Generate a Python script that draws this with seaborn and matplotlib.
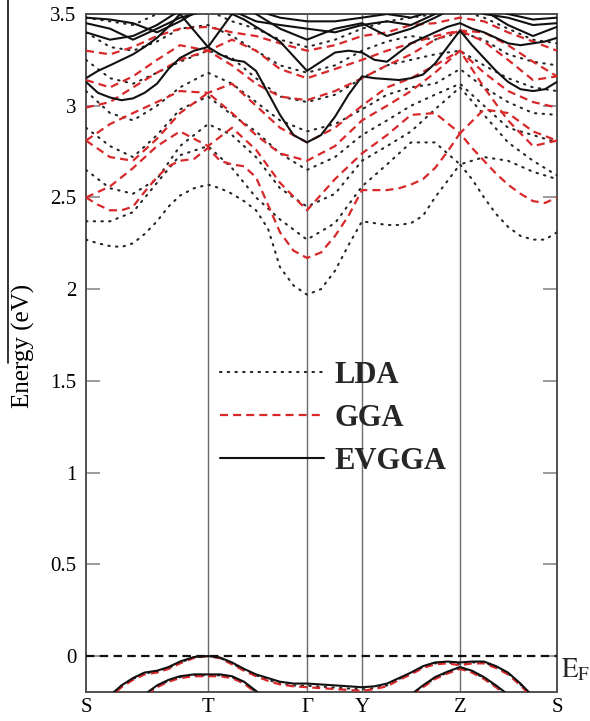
import matplotlib
matplotlib.use("Agg")
import matplotlib.pyplot as plt
from matplotlib.lines import Line2D
import matplotlib.transforms as mtransforms
import pandas as pd
import seaborn as sns

# ---- k-path -------------------------------------------------------------
sym_labels = ["S", "T", "Γ", "Y", "Z", "S"]
sym_k = [0.0, 1.22, 2.21, 2.76, 3.74, 4.71]

# coarse sampling used for the upper conduction bands
k_grid = [0.0, 0.24, 0.47, 0.71, 0.94, 1.22, 1.46, 1.70, 1.94, 2.21,
          2.49, 2.76, 3.01, 3.25, 3.49, 3.74, 3.98, 4.22, 4.47, 4.71]

# finer sampling for the band edges
k_fine = [0.0, 0.12, 0.24, 0.355, 0.47, 0.585, 0.71, 0.825, 0.94, 1.08,
          1.22, 1.34, 1.46, 1.58, 1.70, 1.82, 1.94, 2.075, 2.21, 2.35,
          2.49, 2.625, 2.76, 2.885, 3.01, 3.13, 3.25, 3.37, 3.49, 3.615,
          3.74, 3.86, 3.98, 4.10, 4.22, 4.345, 4.47, 4.59, 4.71]

# ---- band energies (eV) ---------------------------------------------------
lda_bands = [
    # conduction-band minimum (k_fine)
    [2.27, 2.25, 2.235, 2.23, 2.25, 2.30, 2.37, 2.45, 2.51, 2.55, 2.57, 2.55, 2.52, 2.48, 2.43, 2.33, 2.12, 2.02, 1.97, 2.00,
     2.10, 2.24, 2.37, 2.36, 2.35, 2.35, 2.36, 2.40, 2.50, 2.59, 2.68, 2.60, 2.50, 2.41, 2.34, 2.29, 2.27, 2.27, 2.31],
    # higher conduction bands (k_grid)
    [2.37, 2.37, 2.42, 2.58, 2.73, 2.78, 2.66, 2.50, 2.38, 2.27, 2.36, 2.56, 2.68, 2.80, 2.80, 2.68, 2.72, 2.70, 2.64, 2.60],
    [2.65, 2.55, 2.52, 2.60, 2.78, 2.90, 2.84, 2.72, 2.55, 2.45, 2.52, 2.70, 2.78, 2.86, 2.98, 3.10, 2.95, 2.80, 2.70, 2.62],
    [2.88, 2.78, 2.72, 2.84, 2.98, 3.05, 2.95, 2.86, 2.74, 2.65, 2.72, 2.84, 2.92, 3.00, 3.06, 3.12, 3.00, 2.88, 2.84, 2.80],
    [3.08, 2.96, 2.92, 3.00, 3.10, 3.18, 3.12, 3.02, 2.92, 2.86, 2.90, 2.98, 3.06, 3.10, 3.12, 3.20, 3.10, 3.02, 2.96, 2.95],
    [3.25, 3.15, 3.12, 3.18, 3.24, 3.30, 3.26, 3.15, 3.05, 3.02, 3.06, 3.15, 3.22, 3.25, 3.28, 3.30, 3.22, 3.15, 3.10, 3.08],
    [3.40, 3.32, 3.30, 3.35, 3.42, 3.44, 3.38, 3.30, 3.22, 3.18, 3.22, 3.30, 3.35, 3.38, 3.36, 3.40, 3.36, 3.28, 3.24, 3.22],
    [3.48, 3.46, 3.44, 3.50, 3.55, 3.52, 3.46, 3.42, 3.36, 3.32, 3.36, 3.42, 3.46, 3.48, 3.50, 3.52, 3.48, 3.42, 3.36, 3.34],
    # valence bands (k_fine)
    [-0.405, -0.305, -0.22, -0.165, -0.125, -0.095, -0.085, -0.065, -0.035, -0.008, 0.0, -0.01, -0.04, -0.075, -0.105, -0.13,
     -0.15, -0.16, -0.162, -0.167, -0.172, -0.177, -0.182, -0.175, -0.16, -0.125, -0.095, -0.06, -0.04, -0.035, -0.045,
     -0.035, -0.035, -0.06, -0.095, -0.155, -0.225, -0.305, -0.385],
    [-0.605, -0.505, -0.425, -0.335, -0.275, -0.215, -0.165, -0.135, -0.115, -0.105, -0.105, -0.105, -0.115, -0.145, -0.195,
     -0.245, -0.305, -0.355, -0.385, -0.385, -0.385, -0.375, -0.365, -0.345, -0.325, -0.265, -0.215, -0.165, -0.12, -0.09,
     -0.065, -0.085, -0.12, -0.165, -0.215, -0.275, -0.335, -0.395, -0.455],
]

gga_bands = [
    [2.50, 2.46, 2.43, 2.43, 2.45, 2.53, 2.61, 2.67, 2.70, 2.71, 2.77, 2.70, 2.68, 2.67, 2.61, 2.46, 2.31, 2.21, 2.17, 2.20,
     2.29, 2.40, 2.54, 2.54, 2.54, 2.55, 2.57, 2.60, 2.66, 2.75, 2.85, 2.77, 2.70, 2.63, 2.57, 2.52, 2.48, 2.47, 2.50],
    [2.50, 2.56, 2.66, 2.78, 2.86, 2.78, 2.88, 2.76, 2.58, 2.43, 2.60, 2.74, 2.84, 2.95, 2.96, 2.85, 2.98, 2.96, 2.86, 2.81],
    [2.81, 2.72, 2.70, 2.82, 2.96, 3.07, 2.96, 2.84, 2.74, 2.70, 2.78, 2.92, 3.00, 3.08, 3.18, 3.30, 3.10, 2.92, 2.78, 2.81],
    [2.81, 2.90, 2.96, 3.02, 3.08, 3.07, 3.12, 3.00, 2.88, 2.80, 2.88, 3.00, 3.10, 3.15, 3.22, 3.30, 3.18, 3.08, 3.02, 2.99],
    [2.99, 3.02, 3.10, 3.18, 3.25, 3.30, 3.22, 3.12, 3.05, 3.03, 3.08, 3.15, 3.22, 3.28, 3.36, 3.41, 3.35, 3.25, 3.14, 3.16],
    [3.14, 3.10, 3.16, 3.25, 3.33, 3.30, 3.36, 3.30, 3.20, 3.15, 3.20, 3.25, 3.30, 3.34, 3.38, 3.41, 3.40, 3.33, 3.24, 3.16],
    [3.30, 3.28, 3.32, 3.38, 3.42, 3.43, 3.40, 3.38, 3.34, 3.30, 3.33, 3.38, 3.40, 3.44, 3.45, 3.48, 3.46, 3.40, 3.35, 3.30],
    [-0.41, -0.31, -0.225, -0.17, -0.13, -0.10, -0.09, -0.07, -0.04, -0.01, 0.0, -0.012, -0.045, -0.08, -0.11, -0.135,
     -0.155, -0.165, -0.17, -0.175, -0.18, -0.185, -0.19, -0.18, -0.165, -0.13, -0.10, -0.065, -0.045, -0.04, -0.05,
     -0.04, -0.04, -0.065, -0.10, -0.16, -0.23, -0.31, -0.39],
    [-0.61, -0.51, -0.43, -0.34, -0.28, -0.22, -0.17, -0.14, -0.12, -0.11, -0.11, -0.11, -0.12, -0.15, -0.20, -0.25,
     -0.31, -0.36, -0.39, -0.39, -0.39, -0.38, -0.37, -0.35, -0.33, -0.27, -0.22, -0.17, -0.125, -0.095, -0.07,
     -0.09, -0.125, -0.17, -0.22, -0.28, -0.34, -0.40, -0.46],
]

evgga_bands = [
    [3.13, 3.07, 3.045, 3.03, 3.04, 3.07, 3.12, 3.20, 3.26, 3.30, 3.32, 3.28, 3.25, 3.24, 3.19, 3.07, 2.95, 2.84, 2.80, 2.84,
     2.94, 3.06, 3.16, 3.15, 3.145, 3.14, 3.15, 3.17, 3.23, 3.32, 3.41, 3.33, 3.26, 3.19, 3.13, 3.09, 3.08, 3.09, 3.13],
    [3.15, 3.19, 3.22, 3.25, 3.28, 3.32, 3.37, 3.43, 3.50, 3.41, 3.32, 3.41, 3.50, 3.47, 3.43, 3.39, 3.35, 3.27, 3.19, 3.24,
     3.29, 3.30, 3.29, 3.25, 3.24, 3.29, 3.34, 3.37, 3.40, 3.43, 3.45, 3.42, 3.40, 3.37, 3.34, 3.33, 3.34, 3.35, 3.37],
    [3.40, 3.36, 3.38, 3.44, 3.52, 3.56, 3.55, 3.50, 3.42, 3.36, 3.42, 3.45, 3.38, 3.42, 3.48, 3.55, 3.52, 3.44, 3.38, 3.43],
    [3.45, 3.42, 3.36, 3.42, 3.48, 3.52, 3.52, 3.46, 3.44, 3.42, 3.40, 3.44, 3.46, 3.44, 3.50, 3.55, 3.50, 3.48, 3.44, 3.45],
    [3.48, 3.47, 3.45, 3.40, 3.46, 3.55, 3.55, 3.52, 3.48, 3.46, 3.46, 3.48, 3.50, 3.48, 3.52, 3.56, 3.54, 3.50, 3.47, 3.48],
    [-0.40, -0.30, -0.215, -0.16, -0.12, -0.09, -0.08, -0.06, -0.03, -0.005, 0.0, -0.008, -0.035, -0.07, -0.10, -0.12,
     -0.14, -0.15, -0.15, -0.155, -0.16, -0.165, -0.17, -0.165, -0.15, -0.12, -0.09, -0.055, -0.035, -0.03, -0.035,
     -0.03, -0.03, -0.055, -0.09, -0.15, -0.22, -0.30, -0.38],
    [-0.60, -0.50, -0.42, -0.33, -0.27, -0.21, -0.16, -0.13, -0.11, -0.10, -0.10, -0.10, -0.11, -0.14, -0.19, -0.24,
     -0.30, -0.35, -0.38, -0.38, -0.38, -0.37, -0.36, -0.34, -0.32, -0.26, -0.21, -0.16, -0.115, -0.085, -0.06,
     -0.08, -0.115, -0.16, -0.21, -0.27, -0.33, -0.39, -0.45],
]

methods = ["LDA", "GGA", "EVGGA"]
method_bands = {"LDA": lda_bands, "GGA": gga_bands, "EVGGA": evgga_bands}

rows = []
for m in methods:
    for b, energies in enumerate(method_bands[m]):
        ks = k_fine if len(energies) == len(k_fine) else k_grid
        for k, e in zip(ks, energies):
            rows.append({"method": m, "band": b, "k": k, "E": e})
df = pd.DataFrame(rows)

# ---- styling -------------------------------------------------------------
sns.set_theme(style="white")
plt.rcParams["font.family"] = ["Liberation Serif", "DejaVu Serif"]
plt.rcParams["mathtext.fontset"] = "stix"

line_styles = {
    "LDA": dict(color="#262626", linewidth=1.5, linestyle=(0, (0.7, 3.0)),
                dash_capstyle="round"),
    "GGA": dict(color="#d8282a", linewidth=1.6, linestyle=(0, (3.6, 2.3))),
    "EVGGA": dict(color="#111111", linewidth=1.5, linestyle="-"),
}

fig = plt.figure(figsize=(5.9, 7.21), dpi=100)
ax = fig.add_axes([86 / 590, 1 - 692 / 721, 471 / 590, 678 / 721])

for kx in sym_k[1:-1]:
    ax.axvline(kx, color="#6a6a6a", linewidth=1.0, zorder=1)

for m in methods:
    sns.lineplot(data=df[df["method"] == m], x="k", y="E", units="band",
                 estimator=None, sort=False, legend=False, ax=ax, zorder=3,
                 **line_styles[m])

# Fermi level
ax.axhline(0.0, color="#111111", linewidth=1.6, linestyle=(0, (3.8, 2.4)), zorder=4)
ax.text(1.008, -0.005, r"$\mathrm{E}_{\mathrm{F}}$", fontsize=19.5,
        transform=mtransforms.blended_transform_factory(ax.transAxes, ax.transData),
        ha="left", va="top", clip_on=False)

ax.set_xlim(sym_k[0], sym_k[-1])
ax.set_ylim(-0.196, 3.5)
ax.set_xticks(sym_k)
ax.set_xticklabels(sym_labels)
ax.set_yticks([0, 0.5, 1, 1.5, 2, 2.5, 3, 3.5])
ax.set_yticklabels(["0", "0.5", "1", "1.5", "2", "2.5", "3", "3.5"])
ax.tick_params(axis="x", length=0, pad=4, labelsize=15, labelcolor="black")
ax.tick_params(axis="y", direction="in", left=True, right=True, length=10,
               width=1.2, color="#8a8a8a", pad=7, labelsize=15, labelcolor="black")
ax.set_xlabel("")
ax.set_ylabel("Energy (eV)", fontsize=18, color="black")
ax.yaxis.set_label_coords(-0.108, 0.51)

for s in ax.spines.values():
    s.set_color("#505050")
    s.set_linewidth(1.4)

handles = [Line2D([], [], **line_styles[m]) for m in methods]
ax.legend(handles, methods, loc="upper left", bbox_to_anchor=(0.284, 0.488),
          frameon=False, borderpad=0, borderaxespad=0, handlelength=3.4,
          handletextpad=0.35, labelspacing=0.45,
          prop={"family": "Liberation Serif", "weight": "bold", "size": 22})

# rule in the left margin
fig.add_artist(Line2D([8 / 590, 8 / 590], [1.0, 1 - 363 / 721],
                      color="#111111", linewidth=1.2))

fig.savefig("out.png", dpi=100)
